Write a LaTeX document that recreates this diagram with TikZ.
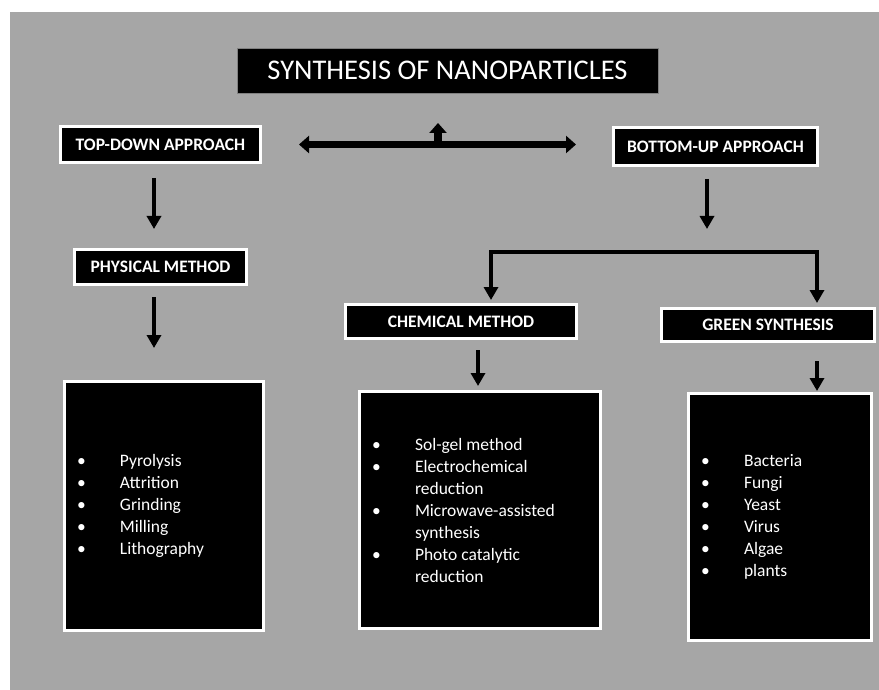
\documentclass[tikz,border=0pt]{standalone}
\usepackage{fontspec}
\setmainfont{Carlito}
\usetikzlibrary{arrows.meta}
\definecolor{canvas}{HTML}{A6A6A6}
\newcommand\listdot{\makebox[43pt][l]{\textbullet}}
\newcommand\listgap{\hspace*{43pt}}
\tikzset{
  headbox/.style={fill=black,draw=gray,line width=0.8pt,text=white,
    minimum width=421pt,minimum height=45pt,font=\fontsize{28.5}{31}\selectfont},
  labelbox/.style={fill=black,draw=white,line width=3pt,text=white,
    inner sep=0pt,font=\fontsize{17.5}{20}\selectfont\bfseries},
  listbox/.style={fill=black,draw=white,line width=3pt,text=white,
    inner xsep=12.5pt,inner ysep=0pt,align=flush left,font=\fontsize{17.5}{22}\selectfont},
  flow/.style={line width=3.5pt,-{Triangle[width=14pt,length=13pt]}},
  forkflow/.style={line width=3.5pt,{Triangle[width=14pt,length=13pt]}-{Triangle[width=14pt,length=13pt]}},
  bigflow/.style={line width=7.5pt,{Triangle[width=17pt,length=10pt]}-{Triangle[width=17pt,length=10pt]}},
  stubflow/.style={line width=7.5pt,-{Triangle[width=17pt,length=10pt]}}
}
\begin{document}
\begin{tikzpicture}[x=1pt,y=-1pt]
  \useasboundingbox (0,0) rectangle (879,690);
  \fill[white] (0,0) rectangle (879,690);
  \fill[canvas] (10,12) rectangle (879,690);

  \node[headbox] (title) at (447.5,70.5) {SYNTHESIS OF NANOPARTICLES};
  \node[labelbox,minimum width=200pt,minimum height=36pt] (topdown) at (160.5,144.5) {TOP-DOWN APPROACH};
  \node[labelbox,minimum width=204pt,minimum height=38pt] (bottomup) at (715.5,146.5) {BOTTOM-UP APPROACH};
  \node[labelbox,minimum width=172pt,minimum height=35pt] (physical) at (160.5,267) {PHYSICAL METHOD};
  \node[labelbox,minimum width=231pt,minimum height=34pt] (chemical) at (461,321.5) {CHEMICAL METHOD};
  \node[labelbox,minimum width=213pt,minimum height=33pt] (green) at (768,325) {GREEN SYNTHESIS};

  \node[listbox,minimum width=199pt,minimum height=249pt,text width=174pt] (physlist) at (164,506)
    {\listdot Pyrolysis\\\listdot Attrition\\\listdot Grinding\\\listdot Milling\\\listdot Lithography};
  \node[listbox,minimum width=241pt,minimum height=237pt,text width=216pt] (chemlist) at (480,510)
    {\listdot Sol-gel method\\\listdot Electrochemical\\\listgap reduction\\\listdot Microwave-assisted\\\listgap synthesis\\\listdot Photo catalytic\\\listgap reduction};
  \node[listbox,minimum width=183pt,minimum height=247pt,text width=158pt] (greenlist) at (780,517)
    {\listdot Bacteria\\\listdot Fungi\\\listdot Yeast\\\listdot Virus\\\listdot Algae\\\listdot plants};

  \coordinate (stubbase) at (438,144.5);
  \coordinate (stubtip) at (438,123);
  \coordinate (bottomtip) at (707,229);
  \coordinate (forkL) at (491,252);
  \coordinate (forkR) at (817,252);

  \draw[bigflow,shorten <=37pt,shorten >=36pt] (topdown.east) -- (topdown.east -| bottomup.west);
  \draw[stubflow] (stubbase) -- (stubtip);

  \draw[flow,shorten <=14pt,shorten >=19pt] ([xshift=-6.5pt]topdown.south) -- ([xshift=-6.5pt]physical.north);
  \draw[flow,shorten <=11pt,shorten >=32pt] ([xshift=-6.5pt]physical.south) -- ([xshift=-6.5pt]physical.south |- physlist.north);
  \draw[flow,shorten <=12pt] (bottomup.south -| bottomtip) -- (bottomtip);
  \draw[forkflow] ([yshift=3pt]forkL |- chemical.north) -- (forkL) -- (forkR) -- ([yshift=4pt]forkR |- green.north);
  \draw[flow,shorten <=10pt,shorten >=4pt] ([xshift=17pt]chemical.south) -- ([xshift=17pt]chemical.south |- chemlist.north);
  \draw[flow,shorten <=18pt,shorten >=1pt] ([xshift=49pt]green.south) -- ([xshift=49pt]green.south |- greenlist.north);
\end{tikzpicture}
\end{document}
